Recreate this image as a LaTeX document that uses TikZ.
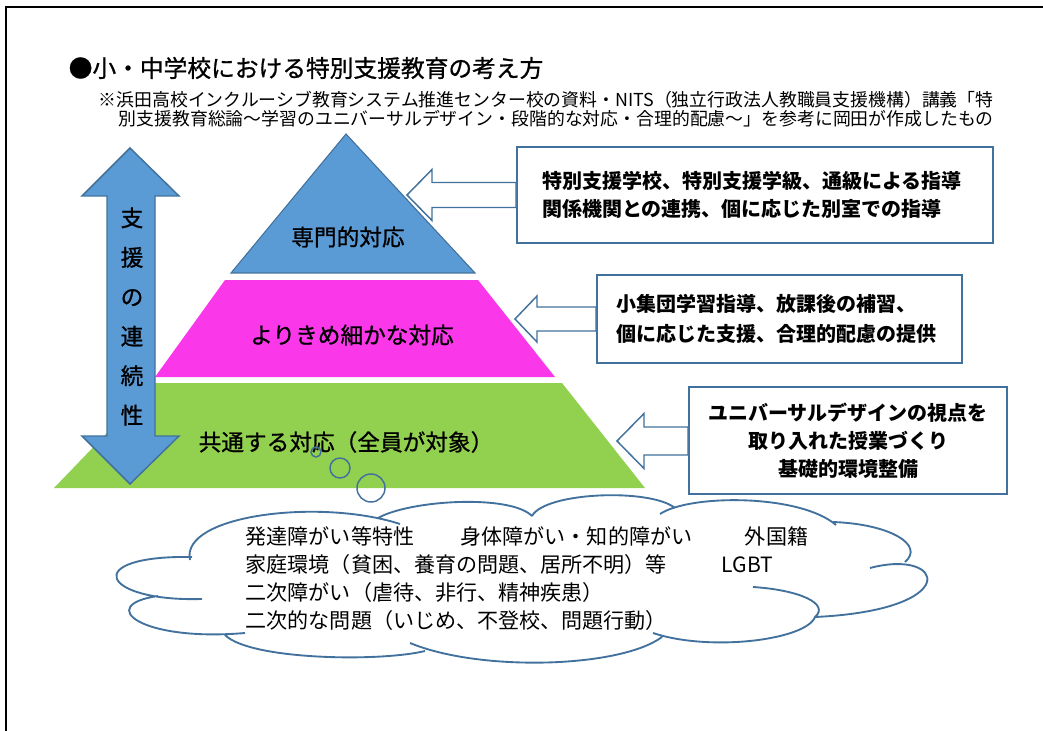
\documentclass[tikz,border=0pt]{standalone}
\usepackage{fontspec}
\setmainfont{Noto Sans CJK JP}
\newfontfamily\medfont{Noto Sans CJK JP}[FakeBold=0.9]
\usetikzlibrary{calc}
\definecolor{pyrblue}{RGB}{91,155,213}
\definecolor{pyrline}{RGB}{65,113,156}
\definecolor{pyrpink}{RGB}{250,56,234}
\definecolor{pyrgreen}{RGB}{146,208,80}
% hollow block arrow: tip, box, head length, half head, half shaft
\newcommand\blockarrow[5]{%
  \draw[hollowarrow] (#1) -- ++(#3,-#4) -- ++(0,#4-#5) -- ($(#2.west |- #1)+(0,-#5)$)
    -- ++(0,2*#5) -- ($(#1)+(#3,#5)$) -- ++(0,#4-#5) -- cycle;}

\begin{document}
\begin{tikzpicture}[x=0.75pt,y=-0.75pt,
    layertext/.style={font=\medfont\fontsize{17}{20}\selectfont},
    infobox/.style={draw=pyrline,line width=1.5pt,fill=white,font=\bfseries\fontsize{15}{21}\selectfont},
    hollowarrow/.style={draw=pyrline,line width=1.1pt,fill=white,line join=miter},
    cloudline/.style={draw=pyrline,line width=1.4pt},
    bubble/.style={draw=pyrline,line width=1.1pt,circle,inner sep=0pt}]
  \useasboundingbox (0,0) rectangle (1043,731);
  \draw[line width=1.5pt] (6,731) -- (6,7) -- (1043,7);

  \node[anchor=west,font=\medfont\fontsize{17.8}{20}\selectfont] (title) at (64,68) {●小・中学校における特別支援教育の考え方};
  \node[anchor=west,font=\fontsize{13.4}{15}\selectfont] (note1) at (94,100) {※浜田高校インクルーシブ教育システム推進センター校の資料・NITS（独立行政法人教職員支援機構）講義「特};
  \node[anchor=west,font=\fontsize{13.4}{15}\selectfont] (note2) at (114,119) {別支援教育総論～学習のユニバーサルデザイン・段階的な対応・合理的配慮～」を参考に岡田が作成したもの};

  \fill[pyrblue,draw=pyrline,line width=0.8pt] (346,134) -- (475,273) -- (231,273) -- cycle;
  \fill[pyrpink] (225,280) -- (478,280) -- (555,377) -- (155,377) -- cycle;
  \fill[pyrgreen] (155,383) -- (562,383) -- (645,488) -- (54,488) -- cycle;
  \node[layertext] (top) at (348,237) {専門的対応};
  \node[layertext] (mid) at (352,335) {よりきめ細かな対応};
  \node[layertext] (base) at (346,442) {共通する対応（全員が対象）};

  \fill[pyrblue,draw=pyrline,line width=1.1pt] (130,148) -- (179,196) -- (155,196) -- (155,436) -- (179,436)
    -- (130,484) -- (82,436) -- (107,436) -- (107,196) -- (82,196) -- cycle;
  \node[align=center,font=\medfont\fontsize{17}{29.6}\selectfont] (cont) at (132,316.5) {支\\援\\の\\連\\続\\性};

  \node[infobox,minimum width=357pt,minimum height=72pt,text width=319.5pt,align=left] (spec) at (755,195)
    {特別支援学校、特別支援学級、通級による指導\\関係機関との連携、個に応じた別室での指導};
  \node[infobox,minimum width=273.75pt,minimum height=66pt,text width=244pt,align=left,
    font=\bfseries\fontsize{15}{22.5}\selectfont] (fine) at (779.5,319)
    {小集団学習指導、放課後の補習、\\個に応じた支援、合理的配慮の提供};
  \node[infobox,minimum width=238.5pt,minimum height=80.25pt,align=center] (common) at (848,440.5)
    {ユニバーサルデザインの視点を\\取り入れた授業づくり\\基礎的環境整備};
  \coordinate (t1) at (407,195);
  \coordinate (t2) at (515,319);
  \coordinate (t3) at (617,441);
  \blockarrow{t1}{spec}{25}{25.5}{12.5}
  \blockarrow{t2}{fine}{22}{23}{12}
  \blockarrow{t3}{common}{27}{27.5}{14}

  \draw[cloudline] (190,560) .. controls (180,515) and (320,498) .. (400,524)
    (378,518) .. controls (410,500) and (510,494) .. (532,516)
    (532,516) .. controls (545,492) and (650,488) .. (675,508)
    (660,514) .. controls (690,494) and (800,494) .. (836,525)
    (833,522) .. controls (890,524) and (925,545) .. (905,562)
    (870,568) .. controls (945,548) and (965,610) .. (815,617)
    (753,587) .. controls (800,590) and (830,604) .. (815,617)
    .. controls (806,640) and (710,652) .. (653,633)
    (662,637) .. controls (620,668) and (480,672) .. (410,643)
    (425,651) .. controls (380,662) and (250,660) .. (225,635)
    (245,633) .. controls (140,642) and (95,605) .. (158,596)
    (202,599) .. controls (100,602) and (80,555) .. (192,557);
  \node[anchor=west,align=left,font=\fontsize{15.8}{21}\selectfont] (needtext) at (241,578.5)
    {発達障がい等特性\hspace{2.2em}身体障がい・知的障がい\hspace{2.5em}外国籍\\
     家庭環境（貧困、養育の問題、居所不明）等\hspace{2.6em}LGBT\\
     二次障がい（虐待、非行、精神疾患）\\
     二次的な問題（いじめ、不登校、問題行動）};
  \node[bubble,minimum size=7.5pt] (b1) at (316,452) {};
  \node[bubble,minimum size=15pt] (b2) at (340,468) {};
  \node[bubble,minimum size=21pt] (b3) at (371,488) {};
\end{tikzpicture}
\end{document}
